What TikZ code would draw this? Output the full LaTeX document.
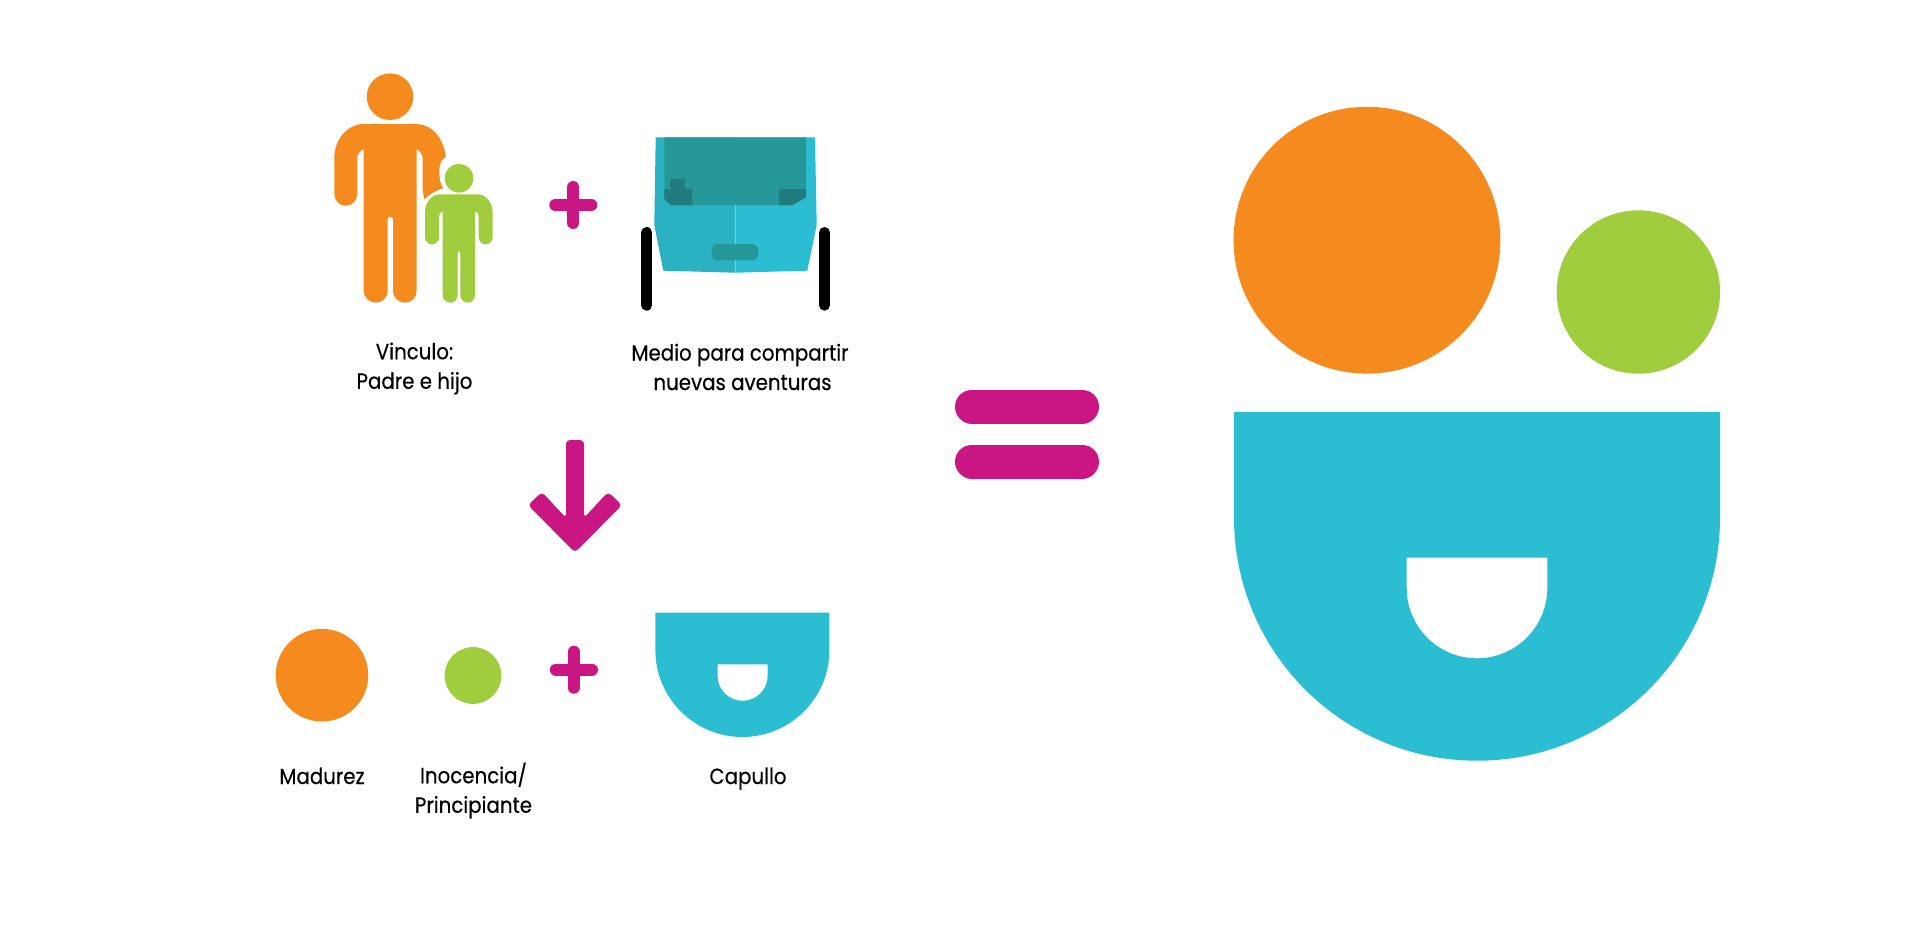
\documentclass[tikz,border=0pt]{standalone}
\usepackage{fontspec}
\setmainfont{Poppins}[FakeStretch=0.9,FakeBold=0.35]
\usetikzlibrary{positioning}
\definecolor{MatureColor}{HTML}{F58B1E}
\definecolor{YoungColor}{HTML}{9FCD3D}
\definecolor{CocoonColor}{HTML}{2BBED2}
\definecolor{CocoonDimmed}{HTML}{2AB2C2}
\definecolor{GlassColor}{HTML}{27989A}
\definecolor{PanelColor}{HTML}{217C80}
\definecolor{SignColor}{HTML}{C91682}

\begin{document}
\begin{tikzpicture}[
      x=1pt,
      y=-1pt,
      mature/.style = {fill=MatureColor, draw=none},
      young/.style = {fill=YoungColor, draw=none},
      cocoon/.style = {fill=CocoonColor, draw=none},
      wheelbar/.style = {draw=black, line width=11pt, line cap=round},
      plusbar/.style = {draw=SignColor, line width=12pt, line cap=round},
      equalbar/.style = {draw=SignColor, line width=34pt, line cap=round},
      caption/.style = {font=\fontsize{22}{29.5}\selectfont, align=center, inner sep=0pt, text=black},
  ]
  \useasboundingbox [fill=white] (0,0) rectangle (1920,934);
  % father and son
  \fill [mature] (390,96.7) circle (23.3);
  \fill [mature] (363.5,124) -- (416.7,124)
    .. controls (432,124) and (444,139) .. (445.7,156.7)
    .. controls (440,161) and (439,166) .. (439.3,171.7)
    .. controls (439.3,178) and (440,184) .. (443.3,188.3)
    .. controls (436,190) and (430,194) .. (424.3,199.3)
    -- (422.7,190) -- (422.7,158)
    .. controls (422.7,154) and (420,151) .. (416.7,149)
    -- (416.7,290.7) arc (0:180:11.85 and 12) -- (393,219)
    arc (0:-180:2.65 and 2.3) -- (387.7,290.7)
    arc (0:180:12 and 12) -- (363.7,149)
    .. controls (360,151) and (357.3,154) .. (357.3,158)
    -- (357.3,194) arc (0:180:11.5 and 11.7) -- (334.3,158)
    .. controls (334.3,139) and (348,124) .. (363.5,124) -- cycle;
  \fill [young] (459,178.3) circle (14.3);
  \fill [young] (440,194.3) -- (478,194.3)
    .. controls (486,194.3) and (492.7,203) .. (492.7,213)
    -- (492.7,237.3) arc (0:180:7 and 7) -- (478.7,216)
    .. controls (478.7,214) and (477,212) .. (475,211)
    -- (475,295.2) arc (0:180:7.35 and 7.5) -- (460.3,253)
    arc (0:-180:1.3 and 2) -- (457.7,295.2)
    arc (0:180:7.5 and 7.5) -- (442.7,211)
    .. controls (441,212) and (439,214) .. (439,216)
    -- (439,237.3) arc (0:180:7 and 7) -- (425,213)
    .. controls (425,203) and (431,194.3) .. (440,194.3) -- cycle;
  % plus signs
  \draw [plusbar] (555.3,205) -- (591.3,205);
  \draw [plusbar] (573.3,187) -- (573.3,223);
  \draw [plusbar] (555.8,669.5) -- (592,669.5);
  \draw [plusbar] (573.6,651.7) -- (573.6,687.7);
  % front of the car
  \draw [wheelbar] (646.8,232.5) -- (646.8,305.2);
  \draw [wheelbar] (824.5,232.5) -- (824.5,305.2);
  \fill [cocoon] (735.3,137.3) -- (815,137.3) -- (816.7,225) -- (807.3,270.7) -- (735.3,272.7) -- cycle;
  \fill [CocoonDimmed] (735.3,137.3) -- (655.7,137.3) -- (654.3,225) -- (663.3,270.7) -- (735.3,272.7) -- cycle;
  \draw [CocoonColor!70!white, line width=0.6pt] (735.3,205) -- (735.3,272.7);
  \fill [GlassColor] (664.3,137.3) -- (806,137.3) -- (806,197.3) -- (792.7,205) -- (671,205) -- (664.3,199.3) -- cycle;
  \fill [PanelColor] (664.3,189) -- (692.3,189) -- (692.3,205) -- (671,205) -- (664.3,199.3) -- cycle;
  \fill [PanelColor] (670,179) rectangle (685,189);
  \fill [PanelColor] (779,189) -- (806,189) -- (806,197.3) -- (792.7,205) -- (779,205) -- cycle;
  \fill [GlassColor, rounded corners=6] (711.7,244) rectangle (758.3,260.3);
  % arrow down
  \fill [SignColor, rounded corners=4] (566,440) -- (584,440) -- (584,518) -- (608,492) -- (622,505)
    -- (575,552.5) -- (528,505) -- (542,492) -- (566,518) -- cycle;
  % small parts
  \fill [mature] (322,675.2) circle (46.3);
  \fill [young] (473,675.5) circle (28.4);
  \fill [cocoon, even odd rule] (655.4,612.7) -- (829.4,612.7) -- (829.4,650) arc (0:180:87)  -- cycle
    (717.5,664.3) -- (767.7,664.3) -- (767.7,675.7) arc (0:180:25.1) -- cycle;
  % equals sign
  \draw [equalbar] (972,406.5) -- (1082,406.5);
  \draw [equalbar] (972,461.5) -- (1082,461.5);
  % large parts
  \fill [mature] (1367,240.2) circle (133.4);
  \fill [young] (1638.4,292) circle (81.7);
  \fill [cocoon, even odd rule] (1234,412) -- (1720,412) -- (1720,517.7) arc (0:180:243) -- cycle
    (1406.7,557.7) -- (1547.3,557.7) -- (1547.3,588) arc (0:180:70.3) -- cycle;
  % texts
  \node [caption] (vinculo) at (414.5,368.5) {Vinculo:\\Padre e hijo};
  \node [caption] (medio) at (740,367) {Medio para compartir\\\hspace*{5pt}nuevas aventuras};
  \node [caption, anchor=base] (madurez) at (322,784) {Madurez};
  \node [caption] (inocencia) at (473.5,790.5) {Inocencia/\\Principiante};
  \node [caption, anchor=base] (capullo) at (748,784) {Capullo};
\end{tikzpicture}
\end{document}
